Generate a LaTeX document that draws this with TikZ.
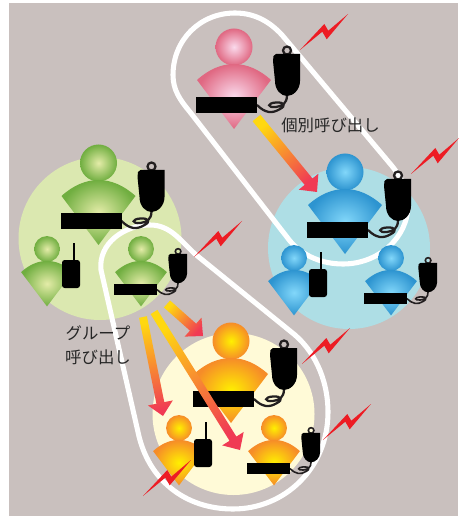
\documentclass[tikz,border=0pt]{standalone}
\usepackage{xcolor}
\usepackage{fontspec}
\setmainfont{Noto Sans CJK JP}
\usetikzlibrary{calc}
\definecolor{wallgray}{RGB}{201,192,190}
\definecolor{greendisc}{RGB}{219,232,176}
\definecolor{bluedisc}{RGB}{174,222,229}
\definecolor{yellowdisc}{RGB}{255,250,215}
\definecolor{pinkcore}{RGB}{250,218,236}
\definecolor{pinkrim}{RGB}{224,104,130}
\definecolor{bluecore}{RGB}{130,215,250}
\definecolor{bluerim}{RGB}{45,148,208}
\definecolor{greencore}{RGB}{228,236,168}
\definecolor{greenrim}{RGB}{112,174,64}
\definecolor{orangecore}{RGB}{255,240,0}
\definecolor{orangerim}{RGB}{246,140,40}
\definecolor{arrowstart}{RGB}{255,216,16}
\definecolor{arrowtip}{RGB}{240,58,84}
\definecolor{boltred}{RGB}{237,28,36}
\definecolor{cordblack}{RGB}{35,31,32}

\newcommand{\gradarrow}[3]{%
  \coordinate (neck) at ($(#2)!10pt!(#1)$);
  \path[shade] let \p1=($(#2)-(#1)$), \n1={atan2(\y1,\x1)-90} in
    [top color=arrowtip, bottom color=arrowstart, shading angle=\n1]
    ($(#1)!#3!90:(#2)$) -- ($(neck)!#3!90:(#2)$) -- ($(neck)!9.5pt!90:(#2)$) -- (#2)
    -- ($(neck)!9.5pt!-90:(#2)$) -- ($(neck)!#3!-90:(#2)$) -- ($(#1)!#3!-90:(#2)$) -- cycle;
}

\begin{document}
\begin{tikzpicture}[
    x=.75pt, y=-.75pt,
    ring/.style={white, line width=3.8pt, line join=round},
    calltext/.style={text=black!85, font=\fontsize{12.3}{18}\selectfont, align=center, inner sep=0pt},
    bolt/.style={fill=boltred},
    pics/person/.style n args={2}{code={
        \shade[inner color=#1, outer color=#2] (0,0) circle (18.5);
        \shade[inner color=#1, outer color=#2] (-37,33) .. controls (-25,22) and (-12,17) .. (0,17)
            .. controls (12,17) and (25,22) .. (37,33) -- (0,82) -- cycle;
    }},
    pics/mic/.style={code={
        \draw[cordblack, line width=#1] (53,48) .. controls (53,57) and (48,59) .. (42,60)
            .. controls (33,61) and (33,56) .. (42,55.5) .. controls (51,55) and (52,59) .. (46,62)
            .. controls (38,67) and (31,66) .. (23,58);
        \draw[cordblack, line width=#1] (53,3.5) circle (4);
        \fill (39,14) -- (39.5,9) -- (42,7) -- (66,7) -- (66,34) .. controls (66,43) and (59,49) .. (53,49)
            .. controls (47,49) and (41,43) .. (41,34) -- cycle;
        \fill (-38,50) rectangle (23,66);
    }},
    pics/talkie/.style={code={
        \fill[rounded corners=2pt] (15,11) rectangle (33,39);
        \fill (25.5,-6) rectangle (27.5,11);
    }},
    pics/spark/.style={code={
        \fill[bolt] (0,0) -- (24.3,-26) -- (28.3,-19.3) -- (48,-36) -- (26.7,-10.7) -- (22.3,-18.3) -- cycle;
    }}
]
\useasboundingbox (0,0) rectangle (458,516);

% Wall and discs
\fill[wallgray] (9,3) rectangle (458,516);
\fill[greendisc] (100,238.5) circle (81.5);
\fill[bluedisc] (349,248) circle (81);
\fill[yellowdisc] (233.5,414) circle (81);

% Call outlines
\draw[ring] (173,75) .. controls (173,40) and (200,13) .. (235,13) .. controls (255,13) and (270,22) .. (282,35)
    -- (392,166) .. controls (403,180) and (408,190) .. (408,205) .. controls (408,238) and (378,264) .. (343,264)
    .. controls (322,264) and (303,256) .. (290,241) -- (190,112) .. controls (180,100) and (173,90) .. (173,75) -- cycle;
\draw[ring] (101,270) .. controls (98,243) and (125,225) .. (150,225) .. controls (170,225) and (180,240) .. (195,254)
    -- (295,335) .. controls (318,355) and (328,385) .. (328,412) .. controls (328,468) and (285,509) .. (233,509)
    .. controls (185,509) and (148,480) .. (138,432) -- cycle;

% Pink caller
\pic (pinkbig) at (234,47) {person={pinkcore}{pinkrim}};
\pic (pinkmic) at (234,47) {mic=1.7pt};

% Blue group
\pic (bluebig) at (345,172) {person={bluecore}{bluerim}};
\pic (bluebigmic) at (345,172) {mic=1.7pt};
\pic[scale=.7] (blueleft) at (294,258) {person={bluecore}{bluerim}};
\pic (bluetalkie) at (294,258) {talkie};
\pic[scale=.7] (blueright) at (391,258) {person={bluecore}{bluerim}};
\pic[scale=.7] (bluerightmic) at (391,258) {mic=1.2pt};

% Green group
\pic (greenbig) at (98.5,163) {person={greencore}{greenrim}};
\pic (greenbigmic) at (98.5,163) {mic=1.7pt};
\pic[scale=.7] (greenleft) at (47,249) {person={greencore}{greenrim}};
\pic (greentalkie) at (47,249) {talkie};
\pic[scale=.7] (greenright) at (141,249) {person={greencore}{greenrim}};
\pic[scale=.7] (greenrightmic) at (141,249) {mic=1.2pt};

% Orange group
\pic (orangebig) at (231,341) {person={orangecore}{orangerim}};
\pic (orangebigmic) at (231,341) {mic=1.7pt};
\pic[scale=.7] (orangeleft) at (179,428) {person={orangecore}{orangerim}};
\pic (orangetalkie) at (179,428) {talkie};
\pic[scale=.7] (orangeright) at (274,428) {person={orangecore}{orangerim}};
\pic[scale=.7] (orangerightmic) at (274,428) {mic=1.2pt};

% Arrows
\coordinate (pinkout) at (256.5,118);
\coordinate (bluein) at (317,192);
\coordinate (greenouta) at (143,317);
\coordinate (orangeina) at (163,416);
\coordinate (greenoutb) at (154,312);
\coordinate (orangeinb) at (240,450);
\coordinate (greenoutc) at (167,304);
\coordinate (orangeinc) at (203,336);
\gradarrow{pinkout}{bluein}{3.8pt}
\gradarrow{greenouta}{orangeina}{3pt}
\gradarrow{greenoutb}{orangeinb}{3pt}
\gradarrow{greenoutc}{orangeinc}{3.5pt}

% Sparks
\pic (sparka) at (300,50) {spark};
\pic (sparkb) at (411,174) {spark};
\pic (sparkc) at (194,257) {spark};
\pic (sparkd) at (302,364) {spark};
\pic (sparke) at (323,440) {spark};
\pic (sparkf) at (143,496) {spark};

% Call labels
\node[calltext] (single) at (330.5,125.5) {個別呼び出し};
\node[calltext] (grouped) at (98,345) {グループ\\呼び出し};

\end{tikzpicture}
\end{document}
